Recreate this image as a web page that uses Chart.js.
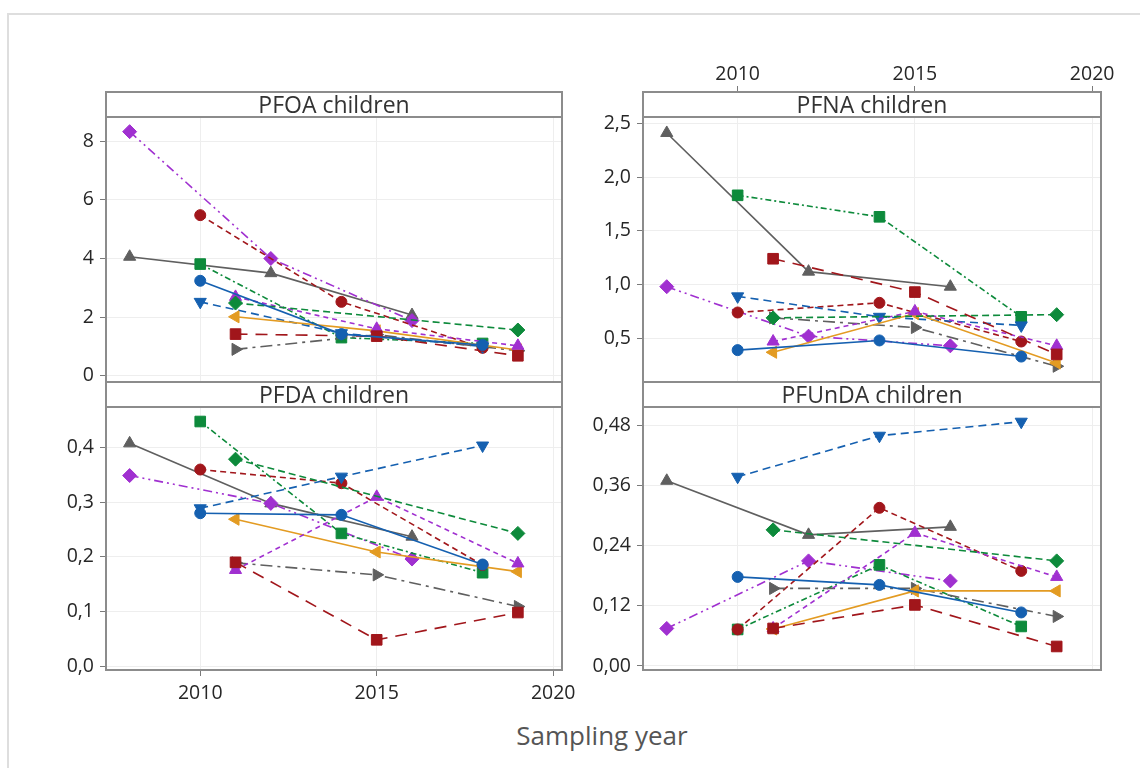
<!DOCTYPE html>
<html>
<head>
<meta charset="utf-8">
<script src="https://cdn.jsdelivr.net/npm/chart.js@4.4.0/dist/chart.umd.min.js"></script>
<style>
  body { margin: 0; background: #fff; font-family: "Open Sans", sans-serif; }
  #page { position: relative; width: 1140px; height: 768px; overflow: hidden; background: #fff; }
  .frame { position: absolute; left: 7px; top: 13px; width: 1200px; height: 800px;
           border-left: 2px solid #dedede; border-top: 2px solid #dedede; }
  canvas { position: absolute; }
  .strip { position: absolute; box-sizing: border-box; border: 2px solid #8c8c8c; background: #fff;
           text-align: center; color: #333; font-size: 23px; line-height: 22px; }
  .xtitle { position: absolute; left: 0; width: 1204px; top: 717px; text-align: center;
            font-size: 26px; color: #555; }
</style>
</head>
<body>
<div id="page">
  <div class="frame"></div>
  <canvas id="pfoa" width="546" height="285" style="left:36px;top:107px"></canvas>
  <canvas id="pfna" width="548" height="340" style="left:573px;top:52px"></canvas>
  <canvas id="pfda" width="546" height="318" style="left:36px;top:397px"></canvas>
  <canvas id="pfunda" width="548" height="283" style="left:573px;top:397px"></canvas>
  <div class="strip" style="left:105px;top:91px;width:458px;height:27px">PFOA children</div>
  <div class="strip" style="left:642px;top:91px;width:460px;height:27px">PFNA children</div>
  <div class="strip" style="left:105px;top:381px;width:458px;height:27px">PFDA children</div>
  <div class="strip" style="left:642px;top:381px;width:460px;height:27px">PFUnDA children</div>
  <div class="xtitle">Sampling year</div>
</div>
<script>
// ---- data: sampling years of each study, and one value list per panel ----
const studyYears = [
  [2010, 2014, 2018], // blue circle
  [2011, 2015, 2019], // red square
  [2011, 2019],       // green diamond
  [2011, 2015, 2019], // purple triangle
  [2011, 2015, 2019], // orange left triangle
  [2011, 2015, 2019], // grey right triangle
  [2010, 2014, 2018], // blue down triangle
  [2010, 2014, 2018], // red circle
  [2010, 2014, 2018], // green square
  [2008, 2012, 2016], // purple diamond
  [2008, 2012, 2016]  // grey triangle
];

const pfoaValues = [
  [3.24, 1.42, 1.05], [1.42, 1.35, 0.68], [2.48, 1.56], [2.69, 1.6, 1.02],
  [2.01, 1.53, 0.88], [0.9, 1.4, 0.85], [2.52, 1.45, 1.0], [5.48, 2.52, 0.95],
  [3.81, 1.3, 1.1], [8.33, 4.0, 1.88], [4.06, 3.5, 2.07]
];
const pfnaValues = [
  [0.39, 0.48, 0.33], [1.24, 0.93, 0.35], [0.69, 0.72], [0.47, 0.75, 0.43],
  [0.37, 0.73, 0.27], [0.69, 0.6, 0.24], [0.89, 0.7, 0.62], [0.74, 0.83, 0.47],
  [1.83, 1.63, 0.7], [0.98, 0.52, 0.43], [2.41, 1.12, 0.98]
];
const pfdaValues = [
  [0.28, 0.277, 0.186], [0.19, 0.048, 0.098], [0.379, 0.243], [0.176, 0.31, 0.188],
  [0.269, 0.209, 0.173], [0.189, 0.167, 0.109], [0.289, 0.347, 0.404], [0.36, 0.335, 0.185],
  [0.448, 0.243, 0.171], [0.349, 0.298, 0.196], [0.408, 0.298, 0.237]
];
const pfundaValues = [
  [0.178, 0.162, 0.107], [0.075, 0.122, 0.039], [0.272, 0.21], [0.075, 0.266, 0.178],
  [0.074, 0.15, 0.15], [0.155, 0.155, 0.099], [0.378, 0.46, 0.488], [0.073, 0.316, 0.19],
  [0.073, 0.202, 0.079], [0.075, 0.21, 0.17], [0.37, 0.262, 0.278]
];

const yearTicks = [2010, 2015, 2020];
const pfoaTicks = [0, 2, 4, 6, 8];
const pfnaTicks = [0.5, 1.0, 1.5, 2.0, 2.5];
const pfdaTicks = [0.0, 0.1, 0.2, 0.3, 0.4];
const pfundaTicks = [0.0, 0.12, 0.24, 0.36, 0.48];

// ---- look of each study (marker, colour, line) ----
const BLUE = "#1560b0", RED = "#a1161b", GREEN = "#0d8a3b", PURPLE = "#a030d0",
      ORANGE = "#e39b22", GREY = "#5f5f5f";
const styles = [
  { c: BLUE,   p: "circle",   r: 5.5, dash: [] },
  { c: RED,    p: "rect",     r: 7.5, dash: [12, 8] },
  { c: GREEN,  p: "rectRot",  r: 7,   dash: [7, 4] },
  { c: PURPLE, p: "triangle", r: 7,   dash: [5, 4] },
  { c: ORANGE, p: "triangle", r: 7,   dash: [], rot: 270 },
  { c: GREY,   p: "triangle", r: 7,   dash: [12, 5, 3, 5], rot: 90 },
  { c: BLUE,   p: "triangle", r: 7,   dash: [8, 5], rot: 180 },
  { c: RED,    p: "circle",   r: 5.5, dash: [6, 4] },
  { c: GREEN,  p: "rect",     r: 7.5, dash: [6, 3, 2, 3] },
  { c: PURPLE, p: "rectRot",  r: 7,   dash: [9, 4, 2, 4, 2, 4] },
  { c: GREY,   p: "triangle", r: 7,   dash: [] }
];

Chart.defaults.font.family = "'Open Sans', sans-serif";

const GRID = "#eeeeee", TICK = "#7a7a7a", LABEL = "#262626";

// draws the panel box round the plot area
const framePlugin = {
  id: "frame",
  afterDraw(chart) {
    const a = chart.chartArea, ctx = chart.ctx;
    ctx.save();
    ctx.strokeStyle = "#8c8c8c";
    ctx.lineWidth = 2;
    ctx.strokeRect(a.left, a.top, a.right - a.left, a.bottom - a.top);
    ctx.restore();
  }
};

function makePanel(id, values, yTicks, yMin, yMax, fmt, xPos, xHeight, xPad) {
  const datasets = values.map((vals, i) => {
    const s = styles[i];
    return {
      data: studyYears[i].map((yr, j) => ({ x: yr, y: vals[j] })),
      borderColor: s.c,
      backgroundColor: s.c,
      borderWidth: 1.6,
      borderDash: s.dash,
      pointStyle: s.p,
      pointRadius: s.r,
      pointRotation: s.rot || 0,
      pointBorderWidth: 1,
      tension: 0
    };
  });

  const showX = xHeight > 0;
  new Chart(document.getElementById(id), {
    type: "line",
    data: { datasets },
    plugins: [framePlugin],
    options: {
      responsive: false,
      animation: false,
      layout: { padding: { left: 10, right: 20, top: 10, bottom: 10 } },
      plugins: { legend: { display: false }, tooltip: { enabled: false } },
      scales: {
        x: {
          type: "linear",
          position: xPos,
          min: 2007.33,
          max: 2020.25,
          afterBuildTicks: s => { s.ticks = yearTicks.map(v => ({ value: v })); },
          afterFit: s => { s.height = xHeight; s.paddingLeft = 0; s.paddingRight = 0; },
          ticks: { display: showX, autoSkip: false, maxRotation: 0, padding: xPad,
                   color: LABEL, font: { size: 19.5 }, callback: v => String(v) },
          grid: { color: GRID, tickColor: TICK, tickLength: 6, drawTicks: showX },
          border: { display: false }
        },
        y: {
          type: "linear",
          min: yMin,
          max: yMax,
          afterBuildTicks: s => { s.ticks = yTicks.map(v => ({ value: v })); },
          afterFit: s => { s.width = 60; s.paddingTop = 0; s.paddingBottom = 0; },
          ticks: { padding: 6, color: LABEL, font: { size: 19.5 }, callback: v => fmt(v) },
          grid: { color: GRID, tickColor: TICK, tickLength: 6 },
          border: { display: false }
        }
      }
    }
  });
}

const comma = d => v => v.toFixed(d).replace(".", ",");

makePanel("pfoa", pfoaValues, pfoaTicks, -0.215, 8.83, v => String(v), "bottom", 0, 0);
makePanel("pfna", pfnaValues, pfnaTicks, 0.0935, 2.791, comma(1), "top", 30, 0);
makePanel("pfda", pfdaValues, pfdaTicks, -0.0073, 0.4746, comma(1), "bottom", 35, 6);
makePanel("pfunda", pfundaValues, pfundaTicks, -0.008, 0.5174, comma(2), "bottom", 0, 0);
</script>
</body>
</html>
